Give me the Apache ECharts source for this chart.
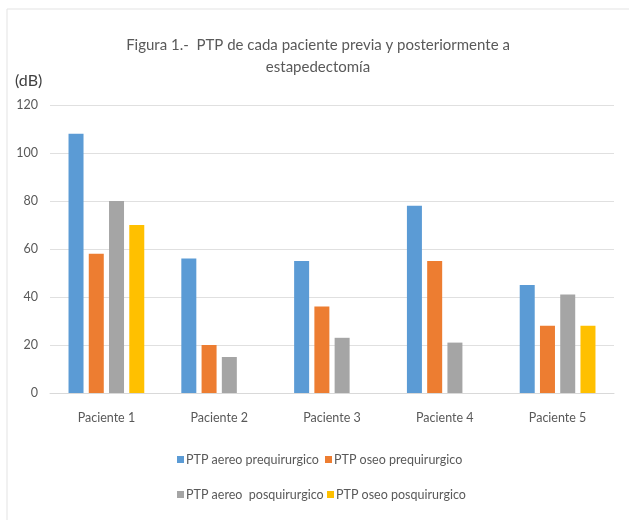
<!DOCTYPE html>
<html><head><meta charset="utf-8">
<script src="https://cdn.jsdelivr.net/npm/echarts@6/dist/echarts.min.js"></script>
<style>html,body{margin:0;padding:0;background:#fff}#c{width:629px;height:520px}</style>
</head><body><div id="c"></div>
<script>
const categories = ['Paciente 1','Paciente 2','Paciente 3','Paciente 4','Paciente 5'];
const seriesNames = ['PTP aereo prequirurgico','PTP oseo prequirurgico','PTP aereo  posquirurgico','PTP oseo posquirurgico'];
const aereoPre = [108, 56, 55, 78, 45];
const oseoPre = [58, 20, 36, 55, 28];
const aereoPos = [80, 15, 23, 21, 41];
const oseoPos = [70, null, null, null, 28];
const titleLines = ['Figura 1.-  PTP de cada paciente previa y posteriormente a', 'estapedectomía'];
const colors = ['#5B9BD5','#ED7D31','#A5A5A5','#FFC000'];
const values = [aereoPre, oseoPre, aereoPos, oseoPos];
const FONT = 'Lato';

const chart = echarts.init(document.getElementById('c'), null, {renderer:'canvas'});
const legendPos = [[177,453],[325,453],[177,488],[327,488]];
chart.setOption({
  animation:false,
  textStyle:{fontFamily:FONT},
  graphic:[
    {type:'rect',shape:{x:7,y:9,width:640,height:530},style:{fill:'none',stroke:'#e3e3e3',lineWidth:1},silent:true},
    {type:'text',x:318,y:45,style:{text:titleLines[0],font:'15px '+FONT,fill:'#595959',textAlign:'center',textVerticalAlign:'middle'}},
    {type:'text',x:318,y:67,style:{text:titleLines[1],font:'15px '+FONT,fill:'#595959',textAlign:'center',textVerticalAlign:'middle'}},
    {type:'text',x:15,y:81,style:{text:'(dB)',font:'16px '+FONT,fill:'#404040',textVerticalAlign:'middle'}}
  ],
  legend: seriesNames.map((n,i)=>({data:[n],left:legendPos[i][0],top:legendPos[i][1],padding:0,
    icon:'rect',itemWidth:7,itemHeight:7,
    textStyle:{fontFamily:FONT,fontSize:12.5,color:'#595959',padding:[0,0,0,-3]}})),
  grid:{left:50,right:15,top:105,bottom:127,containLabel:false},
  xAxis:{type:'category',data:categories,
    axisLine:{lineStyle:{color:'#d9d9d9'}},axisTick:{show:false},
    axisLabel:{fontFamily:FONT,fontSize:12.5,color:'#595959',margin:18}},
  yAxis:{type:'value',min:0,max:120,interval:20,
    axisLine:{show:false},axisTick:{show:false},
    splitLine:{lineStyle:{color:'#e0e0e0'}},
    axisLabel:{fontFamily:FONT,fontSize:12.5,color:'#595959',margin:12}},
  series: seriesNames.map((n,i)=>({name:n,type:'bar',data:values[i],
    barWidth:15,barGap:'35%',itemStyle:{color:colors[i]}}))
});
</script></body></html>
